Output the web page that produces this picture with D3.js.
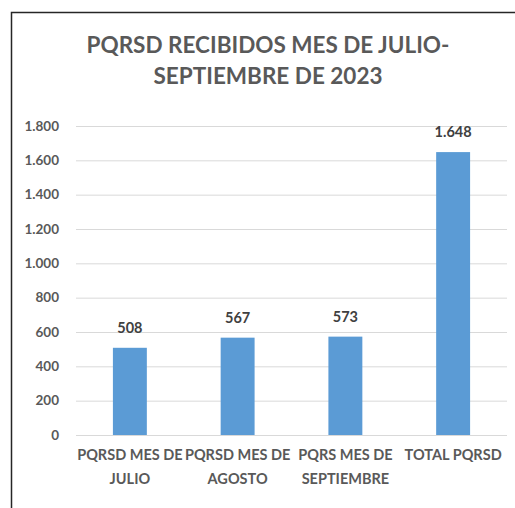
<!DOCTYPE html>
<html>
<head>
<meta charset="utf-8">
<script src="https://cdn.jsdelivr.net/npm/d3@7"></script>
<style>
  body { margin: 0; background: #fff; }
  text { font-family: Lato, "Open Sans", sans-serif; font-weight: bold; }
</style>
</head>
<body>
<div id="chart"></div>
<script>
const categories = [["PQRSD MES DE", "JULIO"], ["PQRSD MES DE", "AGOSTO"], ["PQRS MES DE", "SEPTIEMBRE"], ["TOTAL PQRSD"]]
const values = [508, 567, 573, 1648]
const yTicks = [0, 200, 400, 600, 800, 1000, 1200, 1400, 1600, 1800]
const titleLines = ["PQRSD RECIBIDOS MES DE JULIO-", "SEPTIEMBRE DE 2023"]

const width = 515
const height = 508
const margin = {top: 126, bottom: 73, left: 76, right: 8}
const w = width - margin.left - margin.right
const h = height - margin.top - margin.bottom

const fmt = d3.formatLocale({decimal: ",", thousands: ".", grouping: [3], currency: ["", ""]}).format(",d")

const svg = d3.select("#chart")
    .append("svg")
    .attr("width", width)
    .attr("height", height)

// chart frame (extends past the window on right and bottom)
svg.append("path")
    .attr("d", `M11.5,${height + 5} V12.5 H${width + 5}`)
    .attr("fill", "none")
    .attr("stroke", "#262626")
    .attr("stroke-width", 1.5)

svg.append("g")
    .selectAll("text")
    .data(titleLines)
    .enter()
    .append("text")
    .attr("x", 268)
    .attr("y", (d, i) => 53 + i * 31)
    .attr("text-anchor", "middle")
    .attr("fill", "#595959")
    .style("font-size", "22.5px")
    .text(d => d)

const g = svg.append("g")
    .attr("transform", `translate(${margin.left}, ${margin.top})`)

const xScale = d3.scaleBand()
    .domain(d3.range(categories.length))
    .range([0, w])
    .paddingInner(0.685)
    .paddingOuter(0.3425)

const yScale = d3.scaleLinear()
    .domain([0, 1800])
    .range([h, 0])

const yAxis = d3.axisLeft(yScale)
    .tickValues(yTicks)
    .tickSize(-w)
    .tickPadding(17)
    .tickFormat(fmt)

g.append("g")
    .attr("class", "axis y-axis")
    .call(yAxis)
    .call(s => s.select(".domain").remove())
    .call(s => s.selectAll(".tick line").attr("stroke", "#d9d9d9"))
    .call(s => s.selectAll(".tick text")
        .attr("fill", "#595959")
        .style("font-size", "13.5px")
        .style("font-family", "Lato, sans-serif"))

g.selectAll(".bar")
    .data(values)
    .enter()
    .append("rect")
    .attr("class", "bar")
    .attr("x", (d, i) => xScale(i))
    .attr("y", d => yScale(d))
    .attr("width", xScale.bandwidth())
    .attr("height", d => h - yScale(d))
    .attr("fill", "#5b9bd5")

g.selectAll(".label")
    .data(values)
    .enter()
    .append("text")
    .attr("class", "label")
    .attr("x", (d, i) => xScale(i) + xScale.bandwidth() / 2)
    .attr("y", d => yScale(d) - 15)
    .attr("text-anchor", "middle")
    .attr("fill", "#404040")
    .style("font-size", "14.5px")
    .text(d => fmt(d))

const cat = g.selectAll(".cat")
    .data(categories)
    .enter()
    .append("text")
    .attr("class", "cat")
    .attr("text-anchor", "middle")
    .attr("fill", "#595959")
    .style("font-size", "14.5px")
    .attr("transform", (d, i) => `translate(${xScale(i) + xScale.bandwidth() / 2}, ${h + 25})`)

cat.selectAll("tspan")
    .data(d => d)
    .enter()
    .append("tspan")
    .attr("x", 0)
    .attr("dy", (d, i) => i === 0 ? 0 : 24)
    .text(d => d)
</script>
</body>
</html>
